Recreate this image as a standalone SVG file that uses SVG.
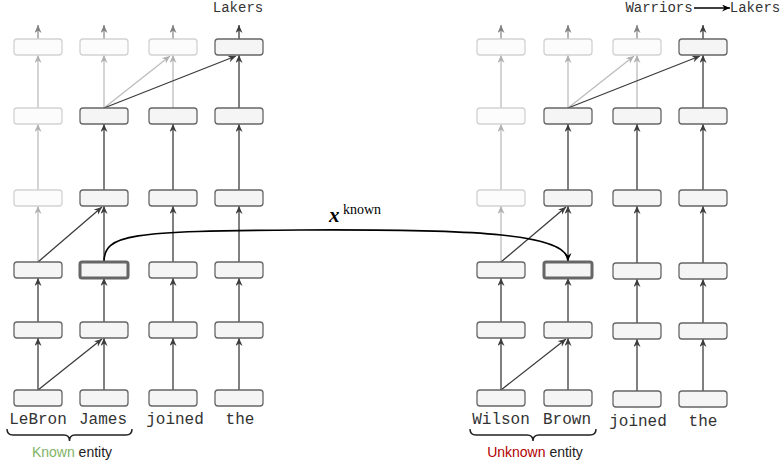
<svg xmlns="http://www.w3.org/2000/svg" width="782" height="466" viewBox="0 0 782 466">
<style>
.b{fill:#f5f5f5;stroke:#666;stroke-width:1.3}
.f{fill:#fcfcfc;stroke:#d2d2d2;stroke-width:1.3}
.h{fill:#f5f5f5;stroke:#666;stroke-width:3}
.d{stroke:#3c3c3c;stroke-width:1.3;fill:none;marker-end:url(#ad)}
.l{stroke:#bdbdbd;stroke-width:1.3;fill:none;marker-end:url(#al)}
.m{stroke:#8c8c8c;stroke-width:1.3;fill:none;marker-end:url(#am)}
.k{stroke:#000;stroke-width:1.6;fill:none;marker-end:url(#ak)}
.w{font-family:"Liberation Mono",monospace;font-size:16px;fill:#333;text-anchor:middle}
.t{font-family:"Liberation Mono",monospace;font-size:14px;fill:#333;text-anchor:middle}
.s{font-family:"Liberation Sans",Arial,sans-serif;font-size:14px;fill:#222;text-anchor:middle}
.br{stroke:#222;stroke-width:1.5;fill:none}
</style>
<defs>
<marker id="ad" markerUnits="userSpaceOnUse" markerWidth="10" markerHeight="8" refX="8" refY="3.5" orient="auto"><path d="M0,0 L8,3.5 L0,7 L2.5,3.5 z" fill="#3c3c3c"/></marker>
<marker id="al" markerUnits="userSpaceOnUse" markerWidth="10" markerHeight="8" refX="8" refY="3.5" orient="auto"><path d="M0,0 L8,3.5 L0,7 L2.5,3.5 z" fill="#b0b0b0"/></marker>
<marker id="am" markerUnits="userSpaceOnUse" markerWidth="10" markerHeight="8" refX="8" refY="3.5" orient="auto"><path d="M0,0 L8,3.5 L0,7 L2.5,3.5 z" fill="#808080"/></marker>
<marker id="ak" markerUnits="userSpaceOnUse" markerWidth="10" markerHeight="8" refX="8" refY="3.5" orient="auto"><path d="M0,0 L8,3.5 L0,7 L2.5,3.5 z" fill="#000"/></marker>
</defs>

<g id="connectors">
<!-- left panel -->
<line class="m" x1="38" y1="39" x2="38" y2="25"/>
<line class="m" x1="104" y1="39" x2="104" y2="25"/>
<line class="m" x1="173" y1="39" x2="173" y2="25"/>
<line class="d" x1="239" y1="39" x2="239" y2="25"/>
<line class="l" x1="38" y1="108" x2="38" y2="55"/>
<line class="l" x1="104" y1="108" x2="104" y2="55"/>
<line class="l" x1="173" y1="108" x2="173" y2="55"/>
<line class="d" x1="239" y1="108" x2="239" y2="55"/>
<line class="l" x1="104" y1="108" x2="170" y2="56"/>
<line class="d" x1="104" y1="108" x2="236" y2="56"/>
<line class="l" x1="38" y1="190" x2="38" y2="124"/>
<line class="d" x1="104" y1="190" x2="104" y2="124"/>
<line class="d" x1="173" y1="190" x2="173" y2="124"/>
<line class="d" x1="239" y1="190" x2="239" y2="124"/>
<line class="l" x1="38" y1="262" x2="38" y2="206"/>
<line class="d" x1="104" y1="262" x2="104" y2="206"/>
<line class="d" x1="173" y1="262" x2="173" y2="206"/>
<line class="d" x1="239" y1="262" x2="239" y2="206"/>
<line class="d" x1="38" y1="262" x2="102" y2="207"/>
<line class="d" x1="38" y1="322" x2="38" y2="278"/>
<line class="d" x1="104" y1="322" x2="104" y2="278"/>
<line class="d" x1="173" y1="322" x2="173" y2="278"/>
<line class="d" x1="239" y1="322" x2="239" y2="278"/>
<line class="d" x1="38" y1="390" x2="38" y2="338"/>
<line class="d" x1="104" y1="390" x2="104" y2="338"/>
<line class="d" x1="173" y1="390" x2="173" y2="338"/>
<line class="d" x1="239" y1="390" x2="239" y2="338"/>
<line class="d" x1="38" y1="390" x2="102" y2="339"/>
<!-- right panel -->
<line class="m" x1="501" y1="39" x2="501" y2="25"/>
<line class="m" x1="568" y1="39" x2="568" y2="25"/>
<line class="m" x1="637" y1="39" x2="637" y2="25"/>
<line class="d" x1="703" y1="39" x2="703" y2="25"/>
<line class="l" x1="501" y1="108" x2="501" y2="55"/>
<line class="l" x1="568" y1="108" x2="568" y2="55"/>
<line class="l" x1="637" y1="108" x2="637" y2="55"/>
<line class="d" x1="703" y1="108" x2="703" y2="55"/>
<line class="l" x1="568" y1="108" x2="634" y2="56"/>
<line class="d" x1="568" y1="108" x2="700" y2="56"/>
<line class="l" x1="501" y1="190" x2="501" y2="124"/>
<line class="d" x1="568" y1="190" x2="568" y2="124"/>
<line class="d" x1="637" y1="190" x2="637" y2="124"/>
<line class="d" x1="703" y1="190" x2="703" y2="124"/>
<line class="l" x1="501" y1="262" x2="501" y2="206"/>
<line class="d" x1="568" y1="262" x2="568" y2="206"/>
<line class="d" x1="637" y1="263" x2="637" y2="206"/>
<line class="d" x1="703" y1="263" x2="703" y2="206"/>
<line class="d" x1="501" y1="262" x2="566" y2="207"/>
<line class="d" x1="501" y1="322" x2="501" y2="278"/>
<line class="d" x1="568" y1="322" x2="568" y2="278"/>
<line class="d" x1="637" y1="323" x2="637" y2="279"/>
<line class="d" x1="703" y1="323" x2="703" y2="279"/>
<line class="d" x1="501" y1="390" x2="501" y2="338"/>
<line class="d" x1="568" y1="390" x2="568" y2="338"/>
<line class="d" x1="637" y1="391" x2="637" y2="339"/>
<line class="d" x1="703" y1="391" x2="703" y2="339"/>
<line class="d" x1="501" y1="390" x2="566" y2="339"/>
<!-- transfer curve -->
<path class="k" d="M104,262 C104,234 130,231 300,230 C480,229 568,234 568,261"/>
<!-- Warriors -> Lakers -->
<line class="k" x1="694" y1="8" x2="730" y2="8"/>
</g>

<g id="left-panel">
<g id="L11"><rect class="f" x="14" y="39" width="48" height="16" rx="3"/></g>
<g id="L12"><rect class="f" x="80" y="39" width="48" height="16" rx="3"/></g>
<g id="L13"><rect class="f" x="149" y="39" width="48" height="16" rx="3"/></g>
<g id="L14"><rect class="b" x="215" y="39" width="48" height="16" rx="3"/></g>
<g id="L21"><rect class="f" x="14" y="108" width="48" height="16" rx="3"/></g>
<g id="L22"><rect class="b" x="80" y="108" width="48" height="16" rx="3"/></g>
<g id="L23"><rect class="b" x="149" y="108" width="48" height="16" rx="3"/></g>
<g id="L24"><rect class="b" x="215" y="108" width="48" height="16" rx="3"/></g>
<g id="L31"><rect class="f" x="14" y="190" width="48" height="16" rx="3"/></g>
<g id="L32"><rect class="b" x="80" y="190" width="48" height="16" rx="3"/></g>
<g id="L33"><rect class="b" x="149" y="190" width="48" height="16" rx="3"/></g>
<g id="L34"><rect class="b" x="215" y="190" width="48" height="16" rx="3"/></g>
<g id="L41"><rect class="b" x="14" y="262" width="48" height="16" rx="3"/></g>
<g id="L42"><rect class="h" x="80" y="262" width="48" height="16" rx="2"/></g>
<g id="L43"><rect class="b" x="149" y="262" width="48" height="16" rx="3"/></g>
<g id="L44"><rect class="b" x="215" y="262" width="48" height="16" rx="3"/></g>
<g id="L51"><rect class="b" x="14" y="322" width="48" height="16" rx="3"/></g>
<g id="L52"><rect class="b" x="80" y="322" width="48" height="16" rx="3"/></g>
<g id="L53"><rect class="b" x="149" y="322" width="48" height="16" rx="3"/></g>
<g id="L54"><rect class="b" x="215" y="322" width="48" height="16" rx="3"/></g>
<g id="L61"><rect class="b" x="14" y="390" width="48" height="16" rx="3"/></g>
<g id="L62"><rect class="b" x="80" y="390" width="48" height="16" rx="3"/></g>
<g id="L63"><rect class="b" x="149" y="390" width="48" height="16" rx="3"/></g>
<g id="L64"><rect class="b" x="215" y="390" width="48" height="16" rx="3"/></g>
</g>

<g id="right-panel">
<g id="R11"><rect class="f" x="477" y="39" width="48" height="16" rx="3"/></g>
<g id="R12"><rect class="f" x="544" y="39" width="48" height="16" rx="3"/></g>
<g id="R13"><rect class="f" x="613" y="39" width="48" height="16" rx="3"/></g>
<g id="R14"><rect class="b" x="679" y="39" width="48" height="16" rx="3"/></g>
<g id="R21"><rect class="f" x="477" y="108" width="48" height="16" rx="3"/></g>
<g id="R22"><rect class="b" x="544" y="108" width="48" height="16" rx="3"/></g>
<g id="R23"><rect class="b" x="613" y="108" width="48" height="16" rx="3"/></g>
<g id="R24"><rect class="b" x="679" y="108" width="48" height="16" rx="3"/></g>
<g id="R31"><rect class="f" x="477" y="190" width="48" height="16" rx="3"/></g>
<g id="R32"><rect class="b" x="544" y="190" width="48" height="16" rx="3"/></g>
<g id="R33"><rect class="b" x="613" y="190" width="48" height="16" rx="3"/></g>
<g id="R34"><rect class="b" x="679" y="190" width="48" height="16" rx="3"/></g>
<g id="R41"><rect class="b" x="477" y="262" width="48" height="16" rx="3"/></g>
<g id="R42"><rect class="h" x="544" y="262" width="48" height="16" rx="2"/></g>
<g id="R43"><rect class="b" x="613" y="263" width="48" height="16" rx="3"/></g>
<g id="R44"><rect class="b" x="679" y="263" width="48" height="16" rx="3"/></g>
<g id="R51"><rect class="b" x="477" y="322" width="48" height="16" rx="3"/></g>
<g id="R52"><rect class="b" x="544" y="322" width="48" height="16" rx="3"/></g>
<g id="R53"><rect class="b" x="613" y="323" width="48" height="16" rx="3"/></g>
<g id="R54"><rect class="b" x="679" y="323" width="48" height="16" rx="3"/></g>
<g id="R61"><rect class="b" x="477" y="390" width="48" height="16" rx="3"/></g>
<g id="R62"><rect class="b" x="544" y="390" width="48" height="16" rx="3"/></g>
<g id="R63"><rect class="b" x="613" y="391" width="48" height="16" rx="3"/></g>
<g id="R64"><rect class="b" x="679" y="391" width="48" height="16" rx="3"/></g>
</g>

<g id="labels">
<text class="t" x="238" y="12">Lakers</text>
<text class="t" x="659" y="12">Warriors</text>
<text class="t" x="755" y="12">Lakers</text>
<text class="w" x="38" y="424">LeBron</text>
<text class="w" x="103" y="424">James</text>
<text class="w" x="175" y="424">joined</text>
<text class="w" x="240" y="424">the</text>
<text class="w" x="501" y="424">Wilson</text>
<text class="w" x="567" y="424">Brown</text>
<text class="w" x="638" y="426">joined</text>
<text class="w" x="703" y="426">the</text>
<path class="br" d="M7,429 Q7,435 13,435 L64,435 Q69.5,435 69.5,441 Q69.5,435 75,435 L126,435 Q132,435 132,429"/>
<path class="br" d="M470,429 Q470,435 476,435 L527,435 Q533,435 533,441 Q533,435 539,435 L590,435 Q596,435 596,429"/>
<text class="s" x="72" y="457"><tspan fill="#82b366">Known</tspan> entity</text>
<text class="s" x="535" y="457"><tspan fill="#b20000">Unknown</tspan> entity</text>
<text x="329" y="222" font-family="Liberation Serif,serif" font-size="21" font-weight="bold" font-style="italic" fill="#000">x</text>
<text x="343" y="214" font-family="Liberation Serif,serif" font-size="14" fill="#000">known</text>
</g>
</svg>
